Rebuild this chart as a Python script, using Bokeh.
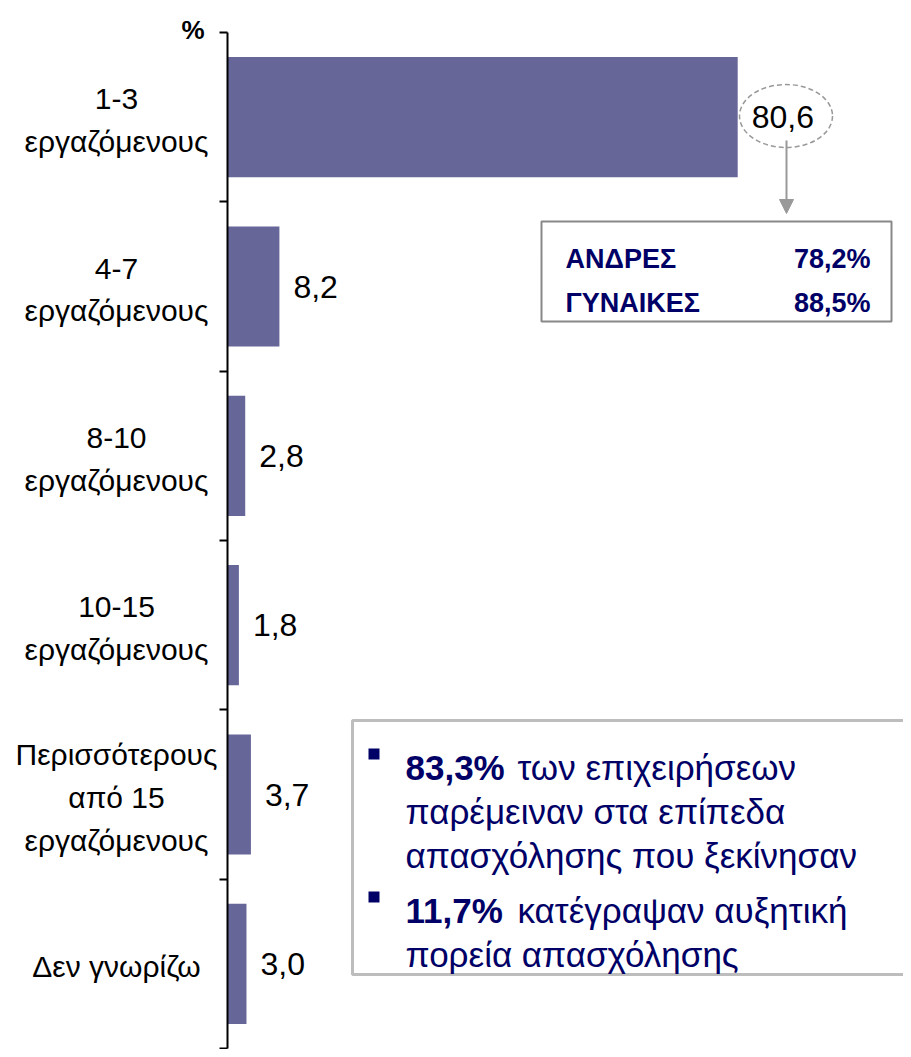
from bokeh.plotting import figure
from bokeh.models import (ColumnDataSource, LabelSet, Label, BoxAnnotation, Arrow,
                          NormalHead, Range1d, FixedTicker)
from bokeh.embed import file_html
from bokeh.resources import INLINE
from bokeh.core.properties import value

# ---------------- data ----------------
categories = ["1-3\nεργαζόμενους", "4-7\nεργαζόμενους", "8-10\nεργαζόμενους",
              "10-15\nεργαζόμενους", "Περισσότερους\nαπό 15\nεργαζόμενους", "Δεν γνωρίζω"]
values = [80.6, 8.2, 2.8, 1.8, 3.7, 3.0]
value_labels = ["80,6", "8,2", "2,8", "1,8", "3,7", "3,0"]
gender_labels = ["ΑΝΔΡΕΣ", "ΓΥΝΑΙΚΕΣ"]
gender_values = ["78,2%", "88,5%"]
bullet_bold = ["83,3%", "11,7%"]
bullet_rest = ["των επιχειρήσεων", "κατέγραψαν αυξητική"]
bullet_more = [["παρέμειναν στα επίπεδα", "απασχόλησης που ξεκίνησαν"],
               ["πορεία απασχόλησης"]]
unit_label = "%"

# ---------------- layout ----------------
W, H = 903, 1049
AX_X, AX_TOP, AX_BOT = 227, 32, 1048   # axis position in picture px
PXU = 6.33                              # pixels per percentage point
N = len(values)
BAND = (AX_BOT - AX_TOP) / N


def X(px):
    return (px - AX_X) / PXU


def Y(py):
    return (py - AX_TOP) / BAND


FONT = "Liberation Sans"
NAVY = "#000066"
BAR = "#666699"

centers = [i + 0.5 for i in range(N)]

p = figure(width=W, height=H, x_range=Range1d(X(0), X(W)), y_range=Range1d(Y(H), Y(0)),
           x_axis_location=None, toolbar_location=None, output_backend="svg",
           min_border_left=0, min_border_right=0, min_border_top=0, min_border_bottom=0)
p.grid.visible = False
p.outline_line_color = None
p.background_fill_color = "white"
p.border_fill_color = "white"

ax = p.yaxis[0]
ax.fixed_location = 0
ax.bounds = (0, N)
ax.ticker = FixedTicker(ticks=list(range(N + 1)))
ax.major_label_text_color = None
ax.major_label_text_font_size = "1px"
ax.major_tick_out = 8
ax.major_tick_in = 0
ax.minor_tick_out = 0
ax.minor_tick_in = 0
ax.axis_line_width = 2
ax.major_tick_line_width = 2
ax.axis_line_color = "black"
ax.major_tick_line_color = "black"

src = ColumnDataSource(dict(y=centers, v=values, lab=value_labels))

p.hbar(y="y", left=0, right="v", height=0.71, source=src,
       fill_color=BAR, line_color=None)

# category labels (left of the axis)
for c, yc in zip(categories, centers):
    p.add_layout(Label(x=0, y=yc, text=c, x_offset=-111, y_offset=-3,
                       text_align="center", text_baseline="middle",
                       text_font=FONT, text_font_size="30px",
                       text_line_height=1.3, text_color="black"))

p.add_layout(LabelSet(x="v", y="y", text="lab", source=src, x_offset=14,
                      text_align="left", text_baseline="middle",
                      text_font=value(FONT), text_font_size="32px", text_color="black"))

p.add_layout(Label(x=0, y=Y(29), text=unit_label, x_offset=-23,
                   text_align="right", text_baseline="alphabetic",
                   text_font=FONT, text_font_size="26px",
                   text_font_style="bold", text_color="black"))

# dashed ellipse round the top value
p.ellipse(x=[X(785.5)], y=[Y(115.5)], width=93, height=63,
          width_units="screen", height_units="screen",
          fill_color=None, line_color="#999999", line_dash="5 3", line_width=1.5)

p.add_layout(Arrow(x_start=X(786), y_start=Y(140), x_end=X(786), y_end=Y(213),
                   line_color="#999999", line_width=2,
                   end=NormalHead(size=14, fill_color="#999999", line_color="#999999")))

# gender box
p.add_layout(BoxAnnotation(left=X(541), right=X(891), top=Y(221), bottom=Y(321),
                           fill_color="white", fill_alpha=1,
                           line_color="#888888", line_width=2, line_alpha=1))
for i, (g, gv) in enumerate(zip(gender_labels, gender_values)):
    by = Y(258 + 44 * i)
    p.add_layout(Label(x=X(565), y=by, text=g, text_align="left",
                       text_baseline="alphabetic", text_font=FONT,
                       text_font_size="27px", text_font_style="bold", text_color=NAVY))
    p.add_layout(Label(x=X(870), y=by, text=gv, text_align="right",
                       text_baseline="alphabetic", text_font=FONT,
                       text_font_size="27px", text_font_style="bold", text_color=NAVY))

# bullet box
p.add_layout(BoxAnnotation(left=X(352), right=X(940), top=Y(720), bottom=Y(974),
                           fill_color="white", fill_alpha=1,
                           line_color="#bdbdbd", line_width=3, line_alpha=1))

first_baselines = [767, 910]
for k in range(2):
    b0 = first_baselines[k]
    p.add_layout(BoxAnnotation(left=X(368), right=X(379), top=Y(b0 - 19), bottom=Y(b0 - 8),
                               fill_color=NAVY, fill_alpha=1, line_color=None))
    p.add_layout(Label(x=X(405), y=Y(b0), text=bullet_bold[k], text_align="left",
                       text_baseline="alphabetic", text_font=FONT,
                       text_font_size="35px", text_font_style="bold", text_color=NAVY))
    p.add_layout(Label(x=X(517), y=Y(b0), text=bullet_rest[k], text_align="left",
                       text_baseline="alphabetic", text_font=FONT,
                       text_font_size="35px", text_color=NAVY))
    for j, line in enumerate(bullet_more[k]):
        p.add_layout(Label(x=X(405), y=Y(b0 + 44 * (j + 1)), text=line, text_align="left",
                           text_baseline="alphabetic", text_font=FONT,
                           text_font_size="35px", text_color=NAVY))

open("out.html", "w").write(file_html(p, INLINE))
